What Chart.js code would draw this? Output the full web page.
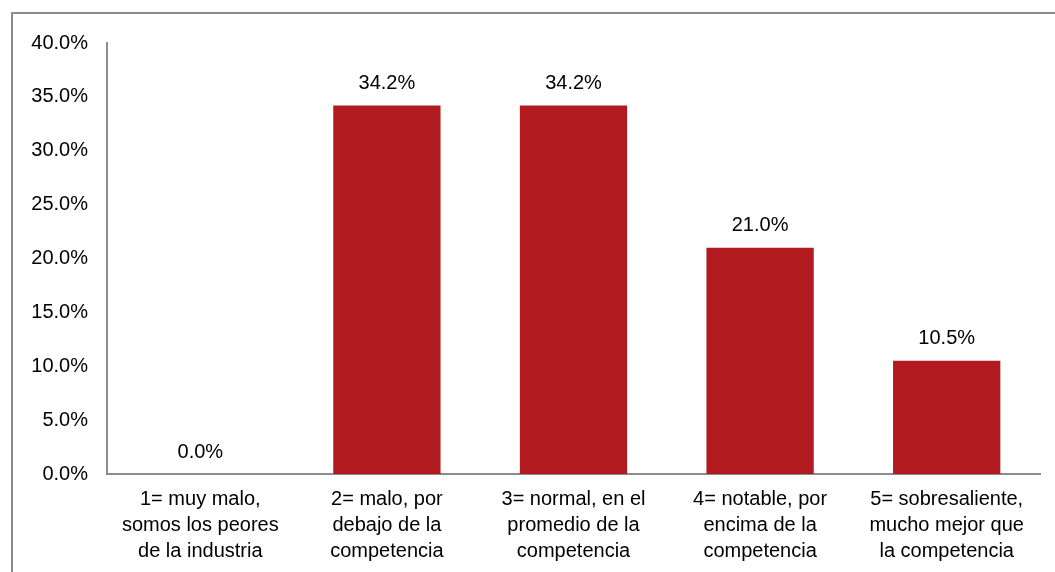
<!DOCTYPE html>
<html>
<head>
<meta charset="utf-8">
<script src="https://cdn.jsdelivr.net/npm/chart.js@4/dist/chart.umd.min.js"></script>
<style>
  html, body { margin: 0; padding: 0; background: #fff; }
  #wrap { position: relative; width: 1055px; height: 572px; overflow: hidden; }
  #frame { position: absolute; left: 11px; top: 12px; width: 1100px; height: 600px;
           border-left: 2px solid #8c8c8c; border-top: 2px solid #8c8c8c; box-sizing: border-box; }
  canvas { position: absolute; left: 0; top: 0; }
</style>
</head>
<body>
<div id="wrap">
  <div id="frame"></div>
  <canvas id="chart" width="1055" height="572"></canvas>
</div>
<script>
const categories = [
  ["1= muy malo,", "somos los peores", "de la industria"],
  ["2= malo, por", "debajo de la", "competencia"],
  ["3= normal, en el", "promedio de la", "competencia"],
  ["4= notable, por", "encima de la", "competencia"],
  ["5= sobresaliente,", "mucho mejor que", "la competencia"]
];
const values = [0.0, 34.2, 34.2, 21.0, 10.5];
const barColor = "#B11A1F";
const fontFamily = "'Liberation Sans', Arial, sans-serif";

const valueLabels = {
  id: 'valueLabels',
  afterDatasetsDraw(chart) {
    const ctx = chart.ctx;
    const meta = chart.getDatasetMeta(0);
    ctx.save();
    ctx.font = "20px " + fontFamily;
    ctx.fillStyle = "#000";
    ctx.textAlign = "center";
    ctx.textBaseline = "middle";
    meta.data.forEach((bar, i) => {
      ctx.fillText(values[i].toFixed(1) + "%", bar.x, bar.y - 22);
    });
    ctx.restore();
  }
};

const ctx = document.getElementById('chart').getContext('2d');
new Chart(ctx, {
  type: 'bar',
  data: {
    labels: categories,
    datasets: [{
      data: values,
      backgroundColor: barColor,
      barPercentage: 0.575,
      categoryPercentage: 1.0
    }]
  },
  options: {
    responsive: false,
    animation: false,
    layout: { padding: { top: 43, right: 15, left: 0, bottom: 0 } },
    plugins: { legend: { display: false }, tooltip: { enabled: false } },
    scales: {
      y: {
        min: 0,
        max: 40,
        ticks: {
          stepSize: 5,
          padding: 19,
          color: "#000",
          font: { size: 20, family: fontFamily },
          callback: v => v.toFixed(1) + "%"
        },
        grid: { display: false, drawTicks: false },
        border: { color: "#8c8c8c", width: 2 },
        afterFit(scale) { scale.width = 107; }
      },
      x: {
        ticks: {
          color: "#000",
          padding: 13,
          maxRotation: 0,
          font: { size: 20, family: fontFamily, lineHeight: 1.28 }
        },
        grid: { display: false, drawTicks: false },
        border: { color: "#8c8c8c", width: 2 },
        afterFit(scale) { scale.height = 98; }
      }
    }
  },
  plugins: [valueLabels]
});
</script>
</body>
</html>
